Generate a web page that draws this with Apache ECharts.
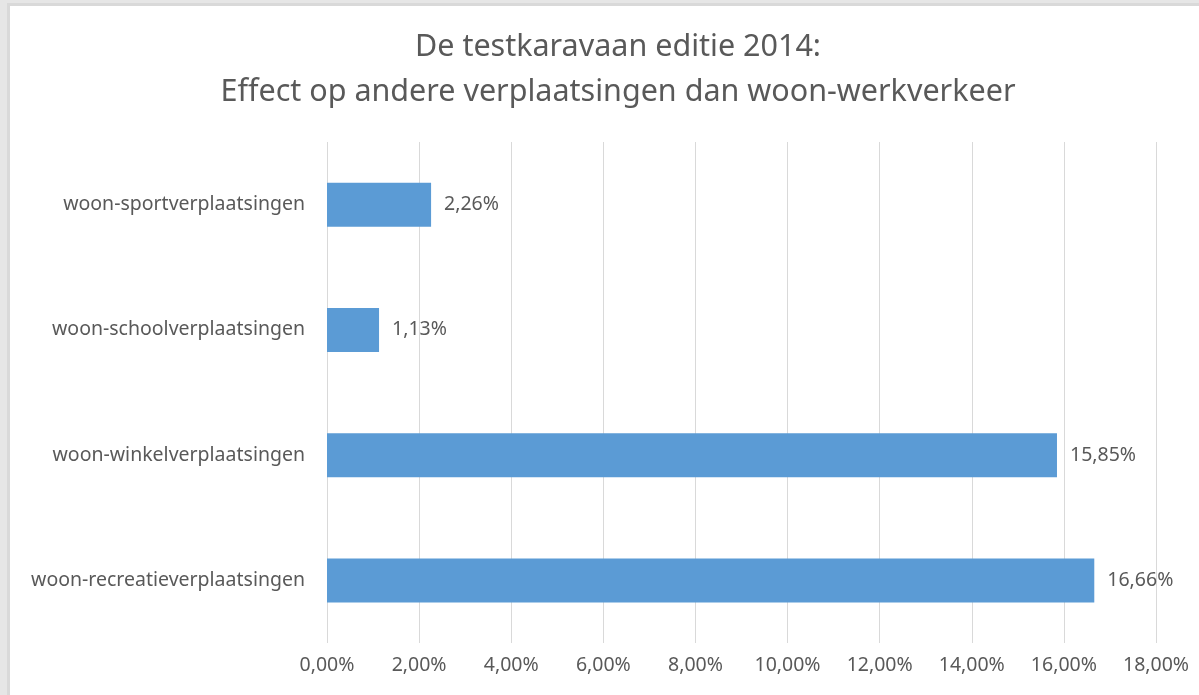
<!DOCTYPE html>
<html><head><meta charset="utf-8">
<script src="https://cdn.jsdelivr.net/npm/echarts@6/dist/echarts.min.js"></script>
<style>
html,body{margin:0;padding:0;width:1199px;height:695px;background:#e6e6e6;overflow:hidden;}
#frame{position:absolute;left:7px;top:3px;width:1192px;height:692px;background:#fff;border-left:3px solid #d9d9d9;border-top:3px solid #d9d9d9;box-sizing:border-box;}
#chart{position:absolute;left:0;top:0;width:1199px;height:695px;}
</style></head>
<body><div id="frame"></div><div id="chart"></div>
<script>
const titleLines = ['De testkaravaan editie 2014:', 'Effect op andere verplaatsingen dan woon-werkverkeer'];
const categories = ['woon-recreatieverplaatsingen', 'woon-winkelverplaatsingen', 'woon-schoolverplaatsingen', 'woon-sportverplaatsingen'];
const values = [16.66, 15.85, 1.13, 2.26];
const fmt = v => v.toFixed(2).replace('.', ',') + '%';
const chart = echarts.init(document.getElementById('chart'));
const font = '"Noto Sans", "Open Sans", sans-serif';
chart.setOption({
  animation: false,
  title: {
    text: titleLines.join('\n'), left: 613, top: 20, textAlign: 'center',
    textStyle: {fontFamily: font, fontSize: 30.5, fontWeight: 'normal', color: '#595959', lineHeight: 45}
  },
  grid: {left: 327, right: 43, top: 142, bottom: 52, containLabel: false},
  xAxis: {
    type: 'value', min: 0, max: 18, interval: 2,
    axisLine: {show: false}, axisTick: {show: false},
    splitLine: {lineStyle: {color: '#d9d9d9', width: 1}},
    axisLabel: {formatter: v => fmt(v), color: '#595959', fontFamily: font, fontSize: 19.5, margin: 12}
  },
  yAxis: {
    type: 'category', data: categories,
    axisLine: {show: false}, axisTick: {show: false},
    axisLabel: {color: '#595959', fontFamily: font, fontSize: 19.5, margin: 22}
  },
  series: [{
    type: 'bar', data: values, barWidth: 44,
    itemStyle: {color: '#5b9bd5'},
    label: {show: true, position: 'right', distance: 13, formatter: p => fmt(p.value), color: '#595959', fontFamily: font, fontSize: 19.5}
  }]
});
</script></body></html>
